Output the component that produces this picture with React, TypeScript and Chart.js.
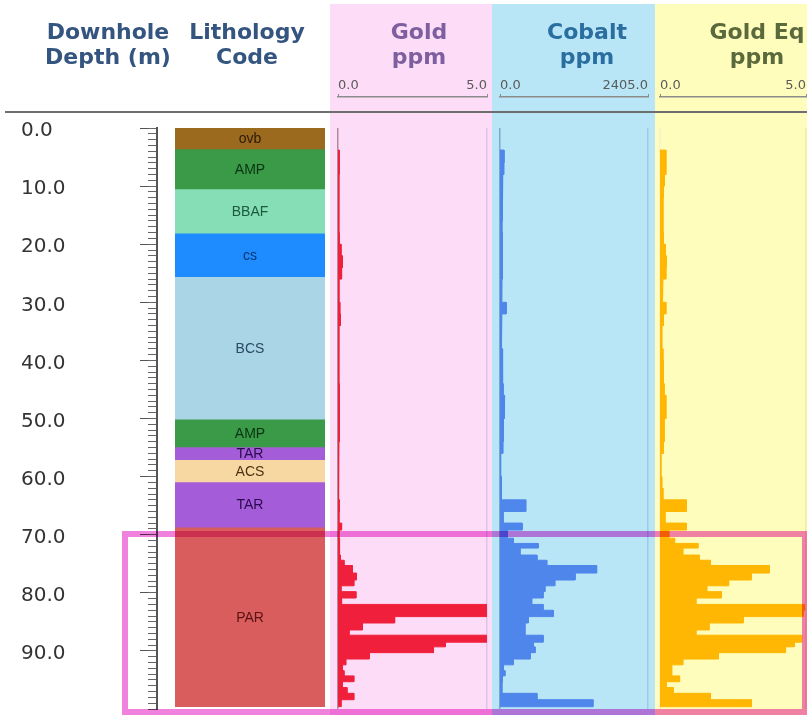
import React, { useEffect, useRef } from "react";
import { Chart, registerables } from "chart.js";
Chart.register(...registerables);

// ---------------- data ----------------
const DEPTH_MIN = 0;
const DEPTH_MAX = 100;
const depthLabels = [0, 10, 20, 30, 40, 50, 60, 70, 80, 90];

const lithFrom = [0, 3.6, 10.5, 18.1, 25.6, 50.1, 54.9, 57.1, 60.9, 68.7];
const lithTo = [3.6, 10.5, 18.1, 25.6, 50.1, 54.9, 57.1, 60.9, 68.7, 99.6];
const lithCode = ["ovb", "AMP", "BBAF", "cs", "BCS", "AMP", "TAR", "ACS", "TAR", "PAR"];
const lithColor = ["#9C6A1E", "#3A9A48", "#86DEB6", "#1E8CFF", "#A9D5E7", "#3A9A48", "#A55CD8", "#F8D8A2", "#A55CD8", "#D95D5D"];
const lithTextColor = ["#2b1a05", "#0b3312", "#1d5a3e", "#0a3570", "#2c4a60", "#0b3312", "#2a0a4e", "#4a3312", "#2a0a4e", "#5a1212"];

const sampleFrom = [
  3.8, 6, 8, 10, 12, 14, 16, 18, 20, 22, 24, 26, 28, 30, 32, 34, 36, 38, 40, 42, 44, 46, 48, 50, 52, 54, 56, 58, 60, 62, 64, 66,
  68.0, 69.2, 70.6, 71.5, 72.3, 73.5, 74.4, 75.3, 76.6, 77.8, 78.8, 79.8, 80.9, 82.0, 83.0, 84.1, 85.2, 86.4, 87.3, 88.5,
  89.3, 90.3, 91.4, 92.4, 93.4, 94.3, 95.3, 96.3, 97.3, 98.4,
];
const sampleTo = [
  6, 8, 10, 12, 14, 16, 18, 20, 22, 24, 26, 28, 30, 32, 34, 36, 38, 40, 42, 44, 46, 48, 50, 52, 54, 56, 58, 60, 62, 64, 66, 68,
  69.2, 70.6, 71.5, 72.3, 73.5, 74.4, 75.3, 76.6, 77.8, 78.8, 79.8, 80.9, 82.0, 83.0, 84.1, 85.2, 86.4, 87.3, 88.5, 89.3,
  90.3, 91.4, 92.4, 93.4, 94.3, 95.3, 96.3, 97.3, 98.4, 99.6,
];
const goldPpm = [
  0.04, 0.04, 0.03, 0.03, 0.02, 0.03, 0.03, 0.04, 0.1, 0.15, 0.12, 0.03, 0.03, 0.06, 0.08, 0.03, 0.02, 0.03, 0.03, 0.03, 0.04, 0.05,
  0.05, 0.04, 0.04, 0.03, 0.01, 0.01, 0.02, 0.03, 0.05, 0.03,
  0.12, 0.03, 0.04, 0.06, 0.05, 0.08, 0.2, 0.48, 0.62, 0.53, 0.1, 0.6, 0.12, 5.6, 5.3, 1.9, 0.82, 0.37, 5.4, 3.6, 3.2, 1.05,
  0.26, 0.15, 0.2, 0.53, 0.15, 0.3, 0.53, 0.1,
];
const cobaltPpm = [
  65, 60, 45, 40, 35, 35, 30, 35, 40, 45, 40, 30, 25, 100, 30, 20, 25, 40, 45, 40, 50, 75, 70, 55, 50, 45, 10, 10, 20, 25, 418, 50,
  360, 120, 215, 620, 325, 600, 760, 1570, 1220, 890, 730, 700, 515, 700, 865, 460, 405, 405, 700, 540, 570, 490, 215, 55, 80,
  40, 30, 30, 600, 1510,
];
const goldEqPpm = [
  0.2, 0.2, 0.15, 0.12, 0.1, 0.1, 0.1, 0.12, 0.18, 0.22, 0.2, 0.1, 0.08, 0.2, 0.12, 0.06, 0.06, 0.1, 0.12, 0.12, 0.14, 0.2, 0.2,
  0.14, 0.14, 0.12, 0.03, 0.03, 0.06, 0.1, 0.9, 0.17,
  0.9, 0.3, 0.5, 1.3, 0.78, 1.35, 1.73, 3.75, 3.13, 2.35, 1.6, 2.1, 1.23, 4.95, 4.9, 2.85, 1.68, 1.23, 4.85, 4.6, 4.3, 2.0,
  0.78, 0.4, 0.4, 0.67, 0.22, 0.45, 1.73, 3.13,
];
const goldScale = [0, 5];
const cobaltScale = [0, 2405];
const goldEqScale = [0, 5];

// ---------------- helpers ----------------
function stepPoints(from: number[], to: number[], vals: number[]) {
  const pts: { x: number; y: number }[] = [{ x: 0, y: from[0] }];
  for (let i = 0; i < vals.length; i++) {
    pts.push({ x: vals[i], y: from[i] });
    pts.push({ x: vals[i], y: to[i] });
  }
  pts.push({ x: 0, y: to[to.length - 1] });
  return pts;
}

const noPlugins = { legend: { display: false }, tooltip: { enabled: false }, title: { display: false } };

function depthConfig(): any {
  return {
    type: "line",
    data: { datasets: [] },
    options: {
      animation: false,
      responsive: false,
      events: [],
      layout: { padding: { left: 21, right: 13, top: 128, bottom: 21 } },
      plugins: noPlugins,
      scales: {
        x: { display: false },
        y: {
          type: "linear",
          position: "left",
          reverse: true,
          min: DEPTH_MIN,
          max: DEPTH_MAX,
          ticks: {
            stepSize: 1,
            autoSkip: false,
            crossAlign: "far",
            padding: 0,
            labelOffset: 3,
            color: "#333333",
            font: { family: "DejaVu Sans", size: 20 },
            callback: (v: number) => (depthLabels.includes(v) ? v.toFixed(1) : ""),
          },
          grid: {
            drawOnChartArea: true,
            tickLength: 8,
            color: "#666666",
            lineWidth: 1,
            tickColor: (c: any) => (c.tick && depthLabels.includes(c.tick.value) ? "#555555" : "rgba(0,0,0,0)"),
          },
          border: { display: false },
          afterFit: (s: any) => {
            s.width = 127;
          },
        },
        yR: {
          type: "linear",
          position: "right",
          reverse: true,
          min: DEPTH_MIN,
          max: DEPTH_MAX,
          ticks: { display: false },
          grid: { display: false, drawTicks: false, tickLength: 0 },
          border: { display: true, color: "#555555", width: 2 },
          afterFit: (s: any) => {
            s.width = 0;
          },
        },
      },
    },
  };
}

function lithConfig(): any {
  const labelPlugin = {
    id: "lithLabels",
    afterDatasetsDraw(chart: any) {
      const ctx = chart.ctx;
      ctx.save();
      ctx.font = '14px "Liberation Sans"';
      ctx.textAlign = "center";
      ctx.textBaseline = "middle";
      chart.data.datasets.forEach((_d: any, i: number) => {
        const el = chart.getDatasetMeta(i).data[0];
        if (!el) return;
        ctx.fillStyle = lithTextColor[i];
        ctx.fillText(lithCode[i], el.x, (el.y + el.base) / 2 + 1);
      });
      ctx.restore();
    },
  };
  return {
    type: "bar",
    data: {
      labels: ["Lithology"],
      datasets: lithCode.map((code, i) => ({
        label: code,
        data: [[lithFrom[i], lithTo[i]]],
        backgroundColor: lithColor[i],
        borderWidth: 0,
      })),
    },
    options: {
      animation: false,
      responsive: false,
      events: [],
      layout: { padding: { left: 5, right: 5, top: 128, bottom: 6 } },
      datasets: { bar: { grouped: false, barPercentage: 1, categoryPercentage: 1 } },
      plugins: noPlugins,
      scales: {
        x: { display: false },
        y: { type: "linear", reverse: true, min: DEPTH_MIN, max: DEPTH_MAX, display: false },
      },
    },
    plugins: [labelPlugin],
  };
}

function panelConfig(
  vals: number[],
  range: number[],
  color: string,
  axisColor: string,
  edgeColor: string,
  padL: number,
  padR: number
): any {
  const [lo, hi] = range;
  const setEnds = (s: any) => {
    s.ticks = [{ value: lo }, { value: hi }];
  };
  return {
    type: "line",
    data: {
      datasets: [
        {
          data: stepPoints(sampleFrom, sampleTo, vals),
          borderColor: color,
          backgroundColor: color,
          borderWidth: 1,
          pointRadius: 0,
          fill: "origin",
          tension: 0,
        },
      ],
    },
    options: {
      indexAxis: "y",
      animation: false,
      responsive: false,
      events: [],
      layout: { padding: { left: padL, right: padR, top: 77, bottom: 6 } },
      plugins: noPlugins,
      scales: {
        x: {
          type: "linear",
          position: "top",
          weight: 0,
          min: lo,
          max: hi,
          afterBuildTicks: setEnds,
          ticks: { display: false },
          grid: {
            drawTicks: false,
            drawOnChartArea: true,
            lineWidth: 1.5,
            color: (c: any) => (c.tick && c.tick.value === lo ? axisColor : edgeColor),
          },
          border: { display: false },
          afterFit: (s: any) => {
            s.height = 31;
          },
        },
        xTop: {
          type: "linear",
          position: "top",
          weight: 1,
          min: lo,
          max: hi,
          afterBuildTicks: setEnds,
          ticks: {
            align: "inner",
            maxRotation: 0,
            padding: 1,
            color: "#5a5a5a",
            font: { family: "DejaVu Sans", size: 13 },
            callback: (v: number) => v.toFixed(1),
          },
          grid: { drawOnChartArea: false, drawTicks: true, tickLength: 3, color: "#8c8c8c" },
          border: { display: true, dash: [5, 4], color: "#8c8c8c", width: 1.5 },
          afterFit: (s: any) => {
            s.height = 20;
          },
        },
        y: { type: "linear", reverse: true, min: DEPTH_MIN, max: DEPTH_MAX, display: false },
      },
    },
  };
}

// ---------------- components ----------------
function ChartBox(props: { left: number; top: number; width: number; height: number; config: () => any }) {
  const ref = useRef<HTMLCanvasElement>(null);
  useEffect(() => {
    const chart = new Chart(ref.current as HTMLCanvasElement, props.config());
    return () => chart.destroy();
  }, []);
  const { left, top, width, height } = props;
  return (
    <div style={{ position: "absolute", left, top, width, height }}>
      <canvas ref={ref} width={width} height={height} style={{ display: "block", width, height }} />
    </div>
  );
}

function Header(props: { cx: number; color: string; lines: string[]; size?: number }) {
  return (
    <div
      style={{
        position: "absolute",
        left: props.cx - 90,
        width: 180,
        top: 19,
        textAlign: "center",
        fontFamily: '"DejaVu Sans"',
        fontWeight: "bold",
        fontSize: props.size || 22,
        lineHeight: "25px",
        color: props.color,
        whiteSpace: "nowrap",
      }}
    >
      {props.lines.map((l, i) => (
        <div key={i}>{l}</div>
      ))}
    </div>
  );
}

export default function App() {
  return (
    <div
      style={{
        position: "absolute",
        left: 0,
        top: 0,
        width: 807,
        height: 715,
        overflow: "hidden",
        background: "#ffffff",
      }}
    >
      {/* panel backgrounds */}
      <div style={{ position: "absolute", left: 330, top: 4, width: 162, height: 711, background: "#FDDCF7" }} />
      <div style={{ position: "absolute", left: 492, top: 4, width: 163, height: 711, background: "#B8E6F6" }} />
      <div style={{ position: "absolute", left: 655, top: 4, width: 152, height: 711, background: "#FFFDBB" }} />

      <ChartBox left={0} top={0} width={170} height={730} config={depthConfig} />
      <ChartBox left={170} top={0} width={160} height={715} config={lithConfig} />
      <ChartBox
        left={330}
        top={0}
        width={162}
        height={715}
        config={() => panelConfig(goldPpm, goldScale, "#F0203C", "#B08A9C", "#E2C2EA", 8, 5)}
      />
      <ChartBox
        left={492}
        top={0}
        width={163}
        height={715}
        config={() => panelConfig(cobaltPpm, cobaltScale, "#4F86EB", "#7FA6C8", "#9CCAE4", 8, 7)}
      />
      <ChartBox
        left={655}
        top={0}
        width={160}
        height={715}
        config={() => panelConfig(goldEqPpm, goldEqScale, "#FFB703", "#F4F0D0", "#F0E9A8", 5, 9)}
      />

      <Header cx={108} color="#34557F" lines={["Downhole", "Depth (m)"]} />
      <Header cx={247} color="#34557F" lines={["Lithology", "Code"]} />
      <Header cx={419} color="#7D5FA0" lines={["Gold", "ppm"]} />
      <Header cx={587} color="#2A6EA0" lines={["Cobalt", "ppm"]} />
      <Header cx={757} color="#5A6A3C" lines={["Gold Eq", "ppm"]} />

      {/* header separator */}
      <div style={{ position: "absolute", left: 5, top: 111, width: 802, height: 2, background: "#6E6E6E" }} />

      {/* highlight frame */}
      <div
        style={{
          position: "absolute",
          left: 122,
          top: 531,
          width: 686,
          height: 184,
          boxSizing: "border-box",
          border: "6px solid rgb(240,130,222)",
          mixBlendMode: "multiply",
        }}
      />
    </div>
  );
}
